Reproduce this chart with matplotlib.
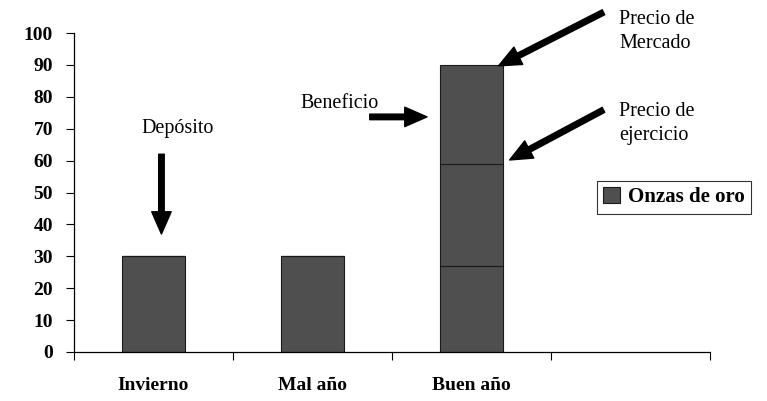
#!/usr/bin/env python3
"""Onzas de oro: deposit vs. bad year vs. good year bar chart."""

import matplotlib
matplotlib.use("Agg")
import matplotlib.pyplot as plt

# data
categories = ["Invierno", "Mal año", "Buen año"]
n_slots = 4  # the last slot on the axis is empty
base_values = [30, 30, 27]       # bottom segment of each bar
mid_values = [0, 0, 32]          # up to the strike price (~59)
top_values = [0, 0, 31]          # up to the market price (~90)
y_ticks = list(range(0, 101, 10))

SERIF = ["Liberation Serif", "DejaVu Serif"]
BAR_COLOR = "#4f4f4f"

plt.rcParams["font.family"] = SERIF

fig = plt.figure(figsize=(7.67, 4.01), dpi=100)
ax = fig.add_axes([74 / 767, 49 / 401, 636 / 767, 319 / 401])

x = [i + 0.5 for i in range(len(categories))]
bar_kw = dict(width=0.4, color=BAR_COLOR, edgecolor="#1a1a1a", linewidth=0.8)
ax.bar(x, base_values, label="Onzas de oro", **bar_kw)
ax.bar(x, mid_values, bottom=base_values, **bar_kw)
stack2 = [a + b for a, b in zip(base_values, mid_values)]
ax.bar(x, top_values, bottom=stack2, **bar_kw)

ax.set_xlim(0, n_slots)
ax.set_ylim(0, 100)
ax.set_yticks(y_ticks)
ax.set_yticklabels([str(v) for v in y_ticks], fontsize=14, fontweight="bold")
ax.tick_params(axis="y", direction="out", length=6, width=0.8, pad=9)

# tick marks at the slot boundaries, labels at the slot centres
ax.set_xticks(range(n_slots + 1))
ax.set_xticklabels([])
ax.tick_params(axis="x", which="major", direction="out", length=6, width=0.8)
ax.set_xticks(x, minor=True)
ax.set_xticklabels(categories, minor=True, fontsize=14, fontweight="bold")
ax.tick_params(axis="x", which="minor", length=0, pad=18)

for side in ("top", "right"):
    ax.spines[side].set_visible(False)
for side in ("left", "bottom"):
    ax.spines[side].set_linewidth(0.9)

arrow = dict(arrowstyle="simple,head_length=1.6,head_width=1.4,tail_width=0.4",
             mutation_scale=10, color="black", shrinkA=0, shrinkB=0)
text_kw = dict(fontsize=14.5, family=SERIF)

# Depósito
ax.text(0.65, 70.0, "Depósito", ha="center", va="center", **text_kw)
ax.annotate("", xy=(0.55, 37.0), xytext=(0.55, 62.0), arrowprops=arrow)

# Beneficio
ax.text(1.67, 78.0, "Beneficio", ha="center", va="center", **text_kw)
ax.annotate("", xy=(2.22, 73.7), xytext=(1.86, 73.7), arrowprops=arrow)

# Precio de Mercado
ax.text(3.43, 100.6, "Precio de\nMercado", ha="left", va="center",
        linespacing=1.35, clip_on=False, **text_kw)
ax.annotate("", xy=(2.67, 89.7), xytext=(3.33, 106.5), arrowprops=arrow,
            annotation_clip=False)

# Precio de ejercicio
ax.text(3.43, 71.5, "Precio de\nejercicio", ha="left", va="center",
        linespacing=1.35, **text_kw)
ax.annotate("", xy=(2.74, 60.2), xytext=(3.33, 75.9), arrowprops=arrow)

leg = fig.legend(loc="upper left", bbox_to_anchor=(597 / 767, 220 / 401),
                 prop={"family": SERIF, "weight": "bold", "size": 15},
                 fancybox=False, frameon=True, handlelength=0.8,
                 handleheight=0.8, handletextpad=0.4, borderpad=0.3,
                 borderaxespad=0)
leg.get_frame().set_edgecolor("black")
leg.get_frame().set_linewidth(0.8)

fig.savefig("out.png", dpi=100)
